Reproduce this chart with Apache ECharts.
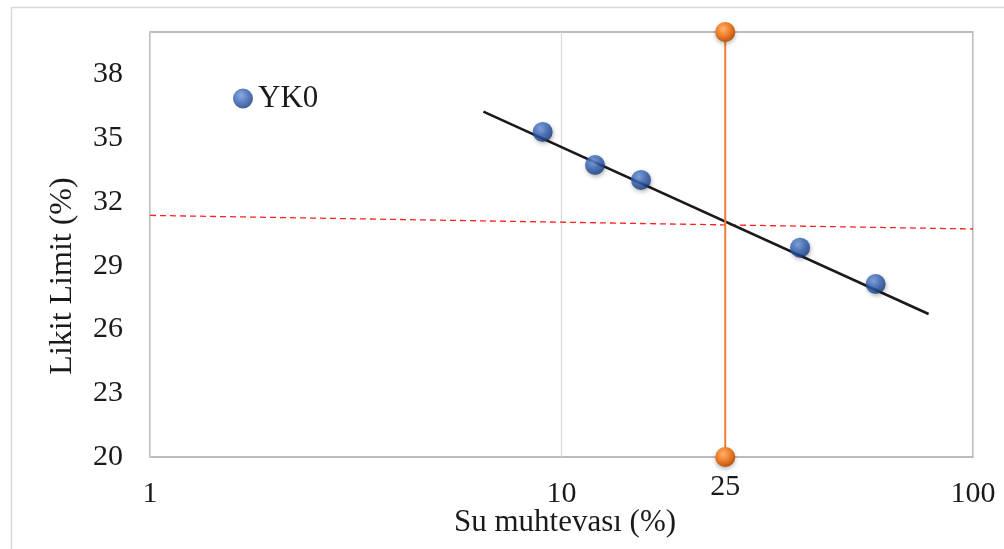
<!DOCTYPE html>
<html>
<head>
<meta charset="utf-8">
<script src="https://cdn.jsdelivr.net/npm/echarts@6/dist/echarts.min.js"></script>
<style>
html,body{margin:0;padding:0;background:#fff;}
#chart{width:1004px;height:549px;}
</style>
</head>
<body>
<div id="chart"></div>
<script>
// Measured points (YK0)
const seriesName = 'YK0';
const waterContent = [9.0, 12.06, 15.6, 38.0, 58.0];
const liquidLimit = [35.3, 33.74, 33.04, 29.85, 28.14];
// Trend line endpoints
const trendX = [6.46, 78.0];
const trendY = [36.25, 26.73];
// Red dashed reference line
const refX = [1, 100];
const refY = [31.37, 30.73];
// Orange vertical line at 25 blows
const blowX = [25, 25];
const blowY = [20, 40];
// Axis settings
const xTitle = 'Su muhtevası (%)';
const yTitle = 'Likit Limit (%)';
const yMin = 20, yMax = 40, yStep = 3;
const xMin = 1, xMax = 100;

const FONT = "'Liberation Serif','Times New Roman',serif";
const TXT = '#1a1a1a';

function sphere(c1, c2, c3) {
  return {
    type: 'radial', x: 0.4, y: 0.35, r: 0.65,
    colorStops: [{offset: 0, color: c1}, {offset: 0.55, color: c2}, {offset: 1, color: c3}]
  };
}
const blueFill = sphere('#6f98dc', '#2f5eb2', '#17397a');
const orangeFill = sphere('#ffb36b', '#ee7d2a', '#b9560f');

const zip = (a, b) => a.map((v, i) => [v, b[i]]);

const chart = echarts.init(document.getElementById('chart'), null, {renderer: 'canvas'});
chart.setOption({
  animation: false,
  backgroundColor: '#ffffff',
  grid: {
    left: 150, right: 31, top: 32, bottom: 92,
    show: true, borderColor: '#a6a6a6', borderWidth: 1.5, backgroundColor: 'transparent'
  },
  legend: {
    data: [{name: seriesName, icon: 'circle', itemStyle: {color: blueFill}}],
    left: 228, top: 78, itemWidth: 20, itemHeight: 20, itemGap: 3,
    textStyle: {fontFamily: FONT, fontSize: 31, color: TXT}
  },
  xAxis: {
    type: 'log', logBase: 10, min: xMin, max: xMax,
    axisLine: {show: false}, axisTick: {show: false},
    splitLine: {show: true, lineStyle: {color: '#d9d9d9', width: 1.2}},
    axisLabel: {fontFamily: FONT, fontSize: 30, color: TXT, margin: 22, lineHeight: 30}
  },
  yAxis: {
    type: 'value', min: yMin, max: yMax, interval: yStep,
    axisLine: {show: false}, axisTick: {show: false},
    splitLine: {show: false},
    axisLabel: {
      fontFamily: FONT, fontSize: 30, color: TXT, margin: 27,
      formatter: v => ((Math.round(v - yMin) % yStep) !== 0 ? '' : String(v))
    }
  },
  series: [
    {
      type: 'line', data: zip(refX, refY), symbol: 'none', silent: true, z: 1,
      lineStyle: {color: '#ff2020', width: 1.3, type: [6, 4]}
    },
    {
      type: 'line', data: zip(trendX, trendY), symbol: 'none', silent: true, z: 2,
      lineStyle: {color: '#1a1a1a', width: 2.6}
    },
    {
      name: seriesName, type: 'scatter', data: zip(waterContent, liquidLimit), z: 3,
      symbolSize: 20,
      itemStyle: {color: blueFill, shadowColor: 'rgba(0,0,0,0.35)', shadowBlur: 4, shadowOffsetX: 1, shadowOffsetY: 2}
    },
    {
      type: 'line', data: zip(blowX, blowY), z: 4, clip: false,
      symbol: 'circle', symbolSize: 20,
      lineStyle: {color: '#ed7d31', width: 2},
      itemStyle: {color: orangeFill, shadowColor: 'rgba(0,0,0,0.3)', shadowBlur: 4, shadowOffsetY: 2},
      label: {
        show: true, position: 'bottom', distance: 5,
        fontFamily: FONT, fontSize: 30, color: TXT, lineHeight: 30,
        formatter: p => (p.dataIndex === 0 ? String(p.value[0]) : '')
      }
    }
  ],
  graphic: [
    {
      type: 'rect', left: 9, top: 5, z: -10, silent: true,
      shape: {width: 1100, height: 600},
      style: {fill: 'none', stroke: '#d9d9d9', lineWidth: 1.5}
    },
    {
      type: 'text', x: 565, y: 523, silent: true,
      style: {text: xTitle, font: '31px ' + FONT, fill: TXT, textAlign: 'center', textVerticalAlign: 'middle'}
    },
    {
      type: 'text', x: 63, y: 276, rotation: Math.PI / 2, silent: true,
      style: {text: yTitle, font: '32px ' + FONT, fill: TXT, textAlign: 'center', textVerticalAlign: 'middle'}
    }
  ]
});
</script>
</body>
</html>
